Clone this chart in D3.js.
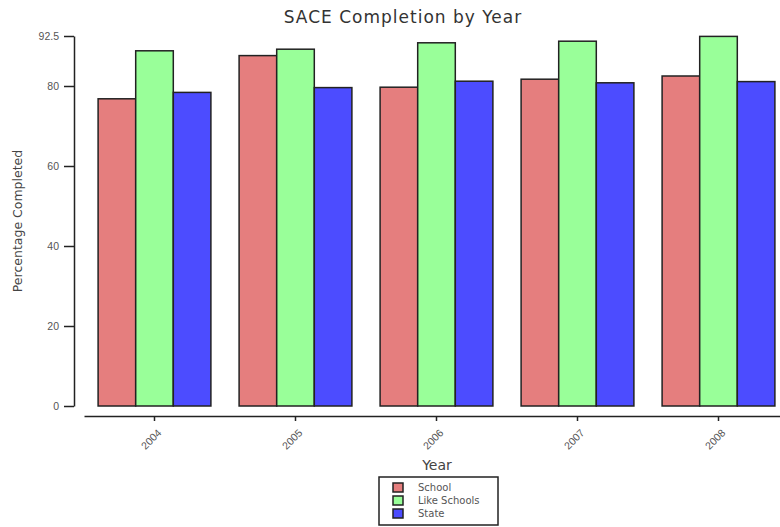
<!DOCTYPE html>
<html>
<head>
<meta charset="utf-8">
<script src="https://cdn.jsdelivr.net/npm/d3@7"></script>
<style>
  body { margin: 0; background: #fff; }
  svg { display: block; font-family: Verdana, "DejaVu Sans", sans-serif; }
  .axis path, .axis line { stroke: #222; stroke-width: 1.5; }
  .axis text { fill: #555; font-size: 10.5px; }
</style>
</head>
<body>
<svg id="chart" width="780" height="527"></svg>
<script>
// данные графика
var years = ['2004', '2005', '2006', '2007', '2008'];
var seriesNames = ['School', 'Like Schools', 'State'];
var schoolVals = [76.8, 87.6, 79.7, 81.7, 82.5];
var likeVals = [88.8, 89.2, 90.8, 91.2, 92.4];
var stateVals = [78.4, 79.6, 81.2, 80.8, 81.1];
var yTicks = [0, 20, 40, 60, 80, 92.5];
var colors = ['#e57e7e', '#99ff99', '#4c4cff'];

var svg = d3.select('#chart');
var series = [schoolVals, likeVals, stateVals];

var x = d3.scaleBand()
    .domain(years)
    .range([84, 789])
    .paddingInner(0.2)
    .paddingOuter(0.1);

var xs = d3.scaleBand()
    .domain(seriesNames)
    .range([0, x.bandwidth()]);

var y = d3.scaleLinear()
    .domain([0, 92.5])
    .range([406, 36]);

// заголовок
svg.append('text')
    .attr('x', 403)
    .attr('y', 23)
    .attr('text-anchor', 'middle')
    .attr('font-size', 17)
    .attr('letter-spacing', 1)
    .attr('fill', '#333')
    .text('SACE Completion by Year');

// столбцы
var groups = svg.selectAll('.year')
    .data(years)
    .enter()
    .append('g')
    .attr('class', 'year')
    .attr('transform', d => `translate(${x(d)},0)`);

groups.selectAll('rect')
    .data((d, i) => seriesNames.map((s, j) => ({ name: s, value: series[j][i], idx: j })))
    .enter()
    .append('rect')
    .attr('x', d => xs(d.name))
    .attr('y', d => y(d.value))
    .attr('width', xs.bandwidth())
    .attr('height', d => y(0) - y(d.value))
    .attr('fill', d => colors[d.idx])
    .attr('stroke', '#222')
    .attr('stroke-width', 1.5);

// ось Y
svg.append('g')
    .attr('class', 'axis')
    .attr('transform', 'translate(74,0)')
    .call(d3.axisLeft(y).tickValues(yTicks).tickFormat(d3.format('')).tickSize(10).tickSizeOuter(0).tickPadding(5));

// ось X
var xAxis = svg.append('g')
    .attr('class', 'axis')
    .attr('transform', 'translate(0,416)')
    .call(d3.axisBottom(x).tickSize(5).tickSizeOuter(0));

xAxis.selectAll('text')
    .attr('x', 0)
    .attr('y', 0)
    .attr('dy', '0.35em')
    .attr('text-anchor', 'end')
    .attr('transform', 'translate(5,15) rotate(-45)');

// подписи осей
svg.append('text')
    .attr('transform', 'translate(22,221) rotate(-90)')
    .attr('text-anchor', 'middle')
    .attr('font-size', 12.5)
    .attr('fill', '#444')
    .text('Percentage Completed');

svg.append('text')
    .attr('x', 437)
    .attr('y', 470)
    .attr('text-anchor', 'middle')
    .attr('font-size', 14)
    .attr('fill', '#444')
    .text('Year');

// легенда
var legend = svg.append('g')
    .attr('transform', 'translate(379,477)');

legend.append('rect')
    .attr('width', 119)
    .attr('height', 48)
    .attr('fill', '#fff')
    .attr('stroke', '#222')
    .attr('stroke-width', 1.5);

var items = legend.selectAll('.item')
    .data(seriesNames)
    .enter()
    .append('g')
    .attr('class', 'item')
    .attr('transform', (d, i) => `translate(14,${6 + i * 13})`);

items.append('rect')
    .attr('width', 10)
    .attr('height', 9)
    .attr('fill', (d, i) => colors[i])
    .attr('stroke', '#222')
    .attr('stroke-width', 1.5);

items.append('text')
    .attr('x', 25)
    .attr('y', 8)
    .attr('font-size', 10)
    .attr('fill', '#555')
    .text(d => d);
</script>
</body>
</html>
